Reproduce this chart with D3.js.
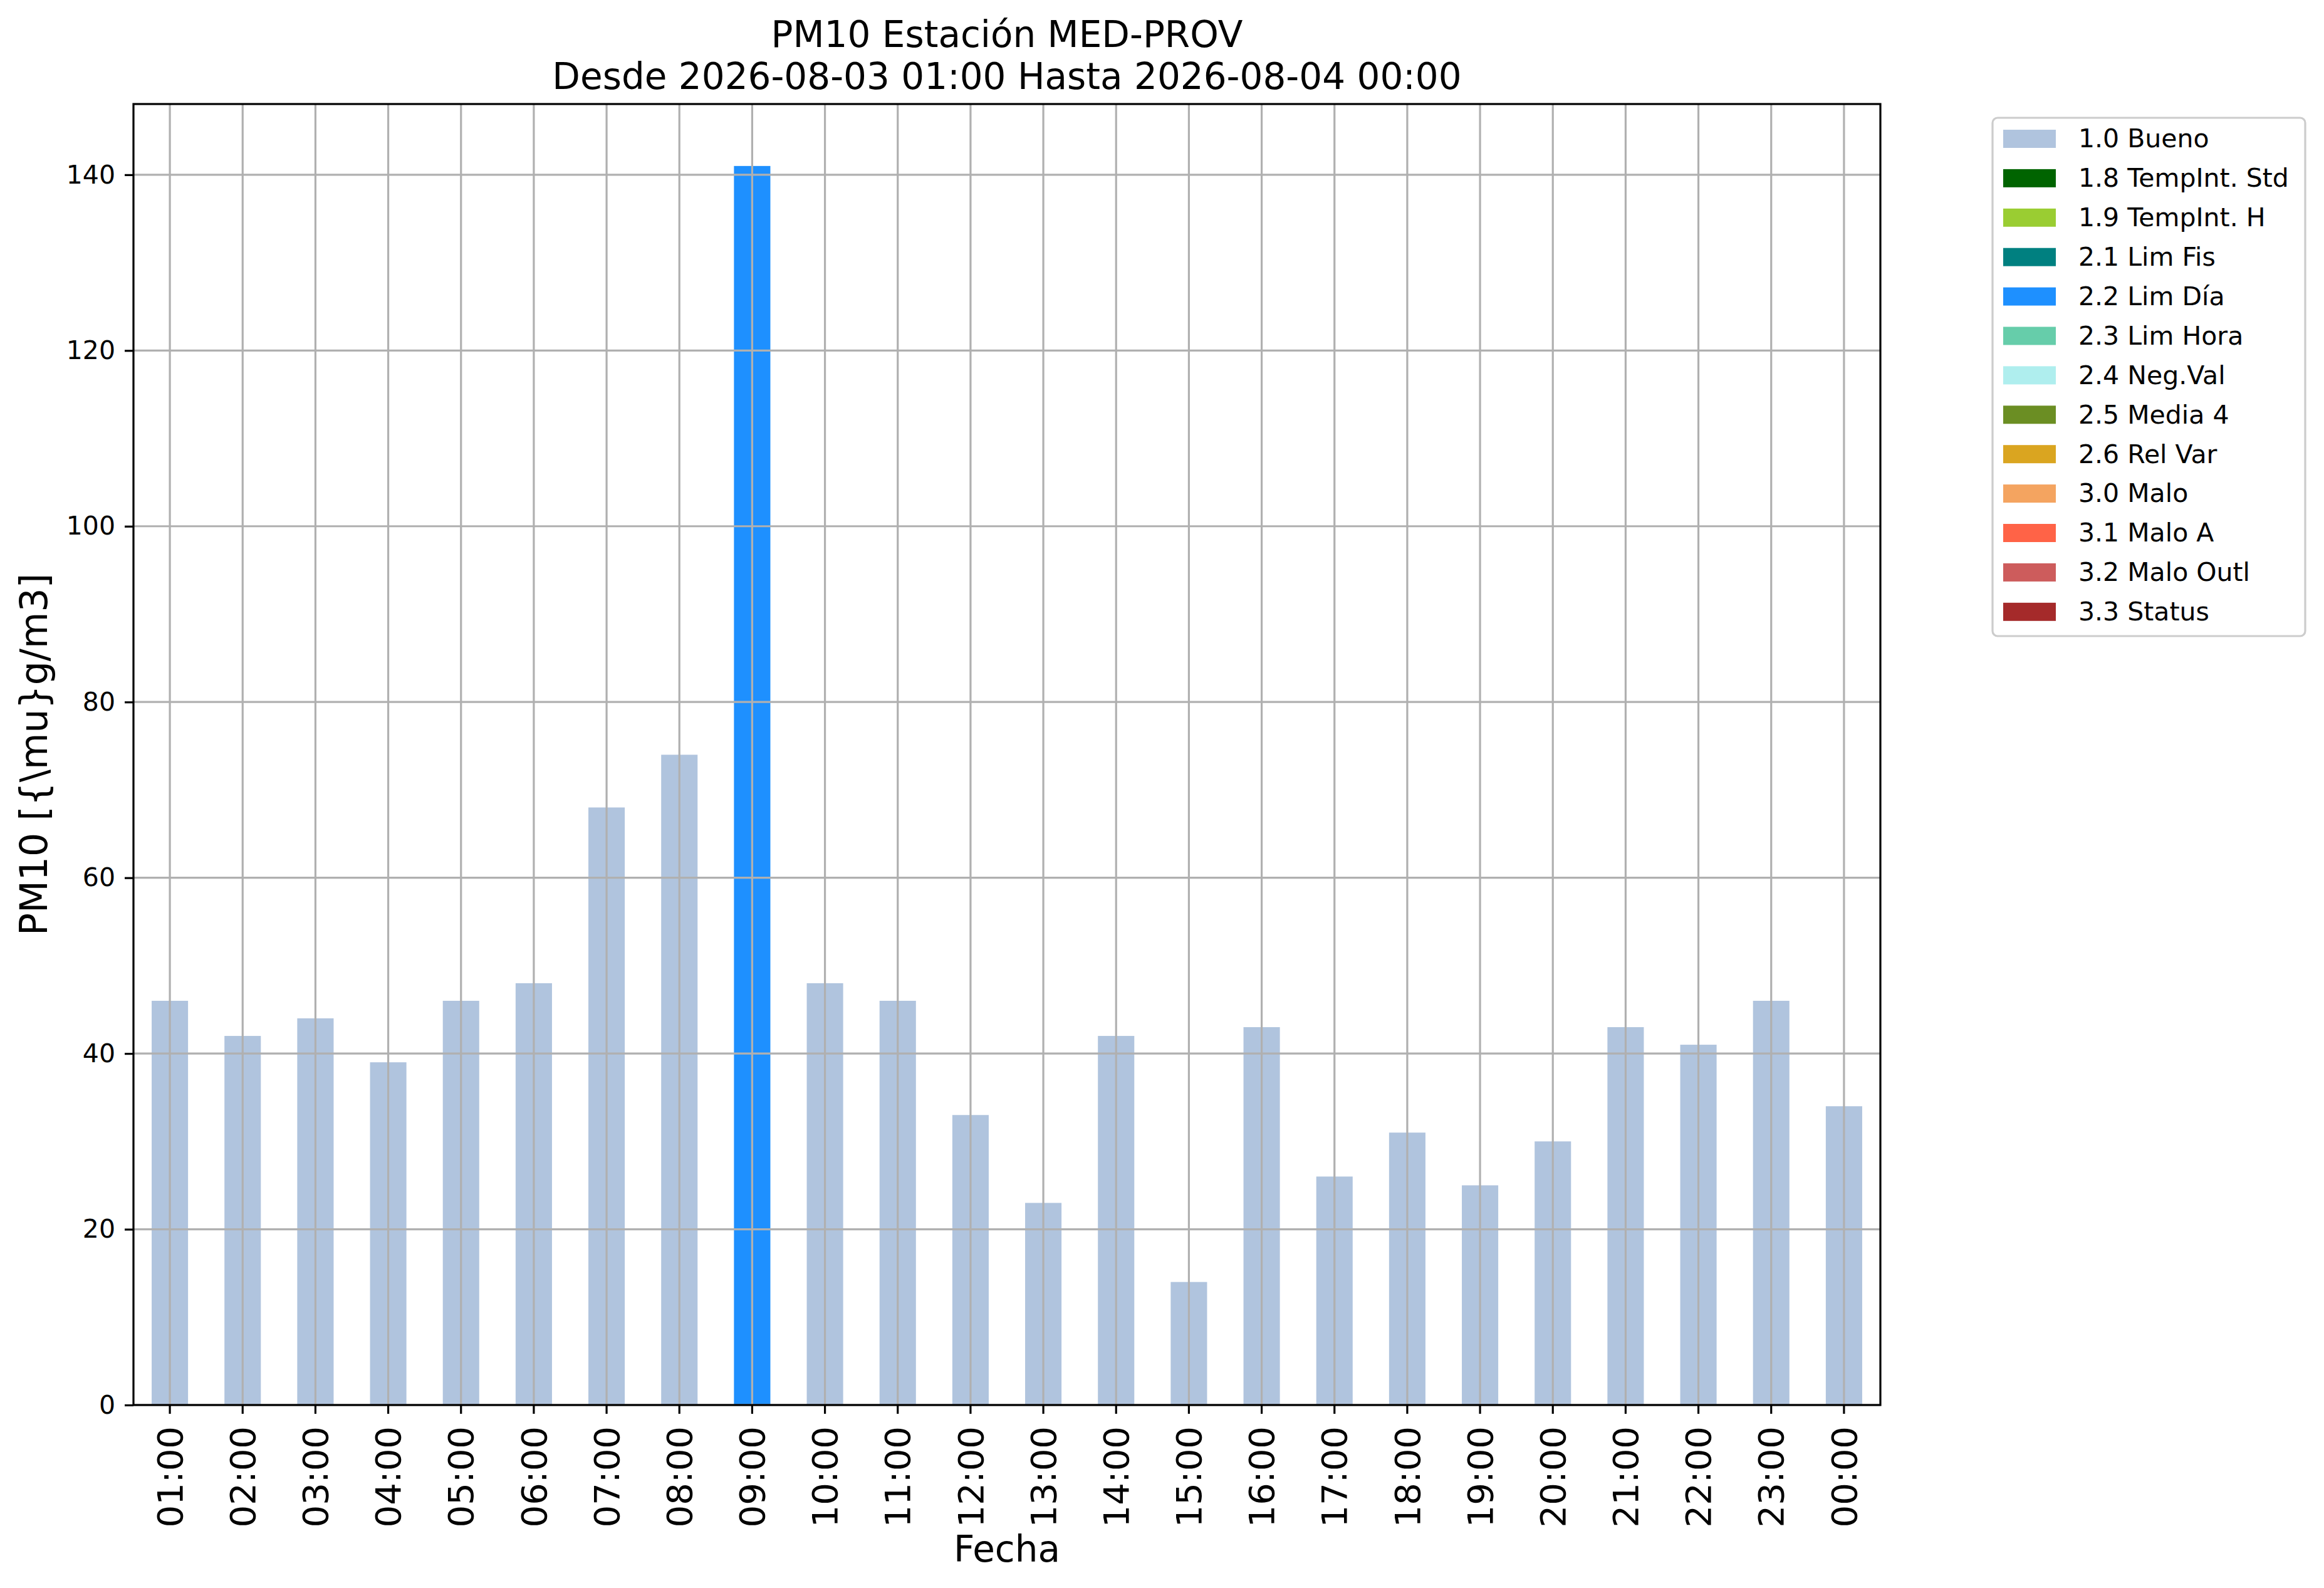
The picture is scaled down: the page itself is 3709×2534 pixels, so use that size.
<!DOCTYPE html>
<html>
<head>
<meta charset="utf-8">
<script src="https://cdn.jsdelivr.net/npm/d3@7"></script>
<style>
  body { margin: 0; background: #fff; }
  svg { display: block; font-family: "DejaVu Sans", sans-serif; }
</style>
</head>
<body>
<svg id="chart" width="3709" height="2534"></svg>
<script>
// hourly PM10 values and their validation flag
var hours = ['01:00', '02:00', '03:00', '04:00', '05:00', '06:00', '07:00', '08:00',
  '09:00', '10:00', '11:00', '12:00', '13:00', '14:00', '15:00', '16:00',
  '17:00', '18:00', '19:00', '20:00', '21:00', '22:00', '23:00', '00:00'];
var values = [46, 42, 44, 39, 46, 48, 68, 74, 141, 48, 46, 33,
  23, 42, 14, 43, 26, 31, 25, 30, 43, 41, 46, 34];
var flags = ['1.0 Bueno', '1.0 Bueno', '1.0 Bueno', '1.0 Bueno', '1.0 Bueno', '1.0 Bueno',
  '1.0 Bueno', '1.0 Bueno', '2.2 Lim Día', '1.0 Bueno', '1.0 Bueno', '1.0 Bueno',
  '1.0 Bueno', '1.0 Bueno', '1.0 Bueno', '1.0 Bueno', '1.0 Bueno', '1.0 Bueno',
  '1.0 Bueno', '1.0 Bueno', '1.0 Bueno', '1.0 Bueno', '1.0 Bueno', '1.0 Bueno'];

var flagNames = ['1.0 Bueno', '1.8 TempInt. Std', '1.9 TempInt. H', '2.1 Lim Fis',
  '2.2 Lim Día', '2.3 Lim Hora', '2.4 Neg.Val', '2.5 Media 4', '2.6 Rel Var',
  '3.0 Malo', '3.1 Malo A', '3.2 Malo Outl', '3.3 Status'];
var flagColors = ['#b0c4de', '#006400', '#9acd32', '#008080', '#1e90ff', '#66cdaa',
  '#afeeee', '#6b8e23', '#daa520', '#f4a460', '#ff6347', '#cd5c5c', '#a52a2a'];

var yTicks = [0, 20, 40, 60, 80, 100, 120, 140];

var titleLines = ['PM10 Estación MED-PROV', 'Desde 2026-08-03 01:00 Hasta 2026-08-04 00:00'];
var xLabel = 'Fecha';
var yLabel = 'PM10 [{\\mu}g/m3]';

var svg = d3.select('#chart');
var box = { left: 213, right: 3001, top: 166, bottom: 2242 };

var x = d3.scaleBand().domain(hours).range([box.left, box.right]).paddingInner(0.5).paddingOuter(0.25);
var yMax = d3.max(values) * 1.05;
var y = d3.scaleLinear().domain([0, yMax]).range([box.bottom, box.top]);
var color = d3.scaleOrdinal().domain(flagNames).range(flagColors);

// bars
svg.append('g').selectAll('rect')
  .data(hours)
  .enter().append('rect')
  .attr('x', function (d) { return x(d); })
  .attr('width', x.bandwidth())
  .attr('y', function (d, i) { return y(values[i]); })
  .attr('height', function (d, i) { return y(0) - y(values[i]); })
  .attr('fill', function (d, i) { return color(flags[i]); });

// grid sits on top of the bars, like the original
var grid = svg.append('g').attr('stroke', '#b0b0b0').attr('stroke-width', 3.2);
grid.selectAll('.gx').data(hours).enter().append('line')
  .attr('x1', function (d) { return x(d) + x.bandwidth() / 2; })
  .attr('x2', function (d) { return x(d) + x.bandwidth() / 2; })
  .attr('y1', box.top).attr('y2', box.bottom);
grid.selectAll('.gy').data(yTicks).enter().append('line')
  .attr('x1', box.left).attr('x2', box.right)
  .attr('y1', function (d) { return y(d); })
  .attr('y2', function (d) { return y(d); });

// axes
var xAxis = d3.axisBottom(x).tickSize(14).tickPadding(14).tickSizeOuter(0);
var gx = svg.append('g').attr('transform', 'translate(0,' + box.bottom + ')').call(xAxis);
gx.select('.domain').remove();
gx.selectAll('.tick line').attr('stroke', '#000').attr('stroke-width', 3.2);
gx.selectAll('.tick text')
  .attr('font-size', 56)
  .attr('font-family', '"DejaVu Sans", sans-serif')
  .attr('fill', '#000')
  .attr('transform', 'rotate(-90)')
  .attr('text-anchor', 'end')
  .attr('x', -34)
  .attr('y', 0)
  .attr('dy', '0.35em');

var yAxis = d3.axisLeft(y).tickValues(yTicks).tickSize(14).tickPadding(15).tickSizeOuter(0);
var gy = svg.append('g').attr('transform', 'translate(' + box.left + ',0)').call(yAxis);
gy.select('.domain').remove();
gy.selectAll('.tick line').attr('stroke', '#000').attr('stroke-width', 3.2);
gy.selectAll('.tick text')
  .attr('font-size', 41)
  .attr('font-family', '"DejaVu Sans", sans-serif')
  .attr('fill', '#000');

// frame
svg.append('rect')
  .attr('x', box.left).attr('y', box.top)
  .attr('width', box.right - box.left).attr('height', box.bottom - box.top)
  .attr('fill', 'none').attr('stroke', '#000').attr('stroke-width', 3.2);

// titles
svg.append('g').selectAll('text')
  .data(titleLines)
  .enter().append('text')
  .attr('x', (box.left + box.right) / 2)
  .attr('y', function (d, i) { return 75 + i * 67; })
  .attr('text-anchor', 'middle')
  .attr('font-size', 58)
  .text(function (d) { return d; });

svg.append('text')
  .attr('x', (box.left + box.right) / 2)
  .attr('y', 2492)
  .attr('text-anchor', 'middle')
  .attr('font-size', 58)
  .text(xLabel);

svg.append('text')
  .attr('transform', 'translate(75,' + (box.top + box.bottom) / 2 + ') rotate(-90)')
  .attr('text-anchor', 'middle')
  .attr('font-size', 60)
  .text(yLabel);

// legend
var legend = svg.append('g').attr('transform', 'translate(3180,188)');
legend.append('rect')
  .attr('width', 499).attr('height', 827)
  .attr('rx', 8)
  .attr('fill', '#fff').attr('fill-opacity', 0.8)
  .attr('stroke', '#cccccc').attr('stroke-width', 3.2);

var rows = legend.selectAll('.row')
  .data(flagNames)
  .enter().append('g')
  .attr('transform', function (d, i) { return 'translate(0,' + (33 + i * 62.9) + ')'; });
rows.append('rect')
  .attr('x', 17).attr('y', -14)
  .attr('width', 84).attr('height', 29)
  .attr('fill', function (d) { return color(d); });
rows.append('text')
  .attr('x', 137)
  .attr('dy', '0.35em')
  .attr('font-size', 41)
  .text(function (d) { return d; });
</script>
</body>
</html>
